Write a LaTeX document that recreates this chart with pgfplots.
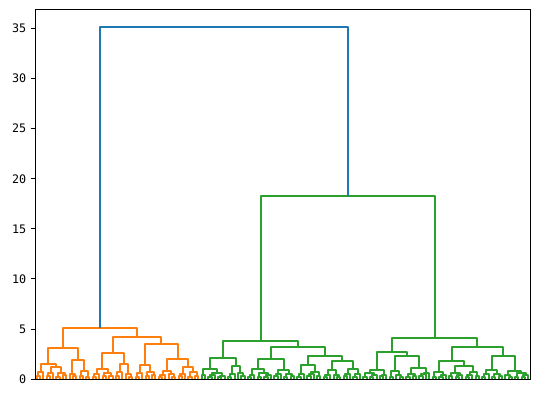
\documentclass[border=0pt]{standalone}
\usepackage{pgfplots}
\pgfplotsset{compat=1.18}
\usepackage{fontspec}
\setmainfont{DejaVu Sans Mono}
\definecolor{mplblue}{HTML}{1F77B4}
\definecolor{mplorange}{HTML}{FF7F0E}
\definecolor{mplgreen}{HTML}{2CA02C}
\begin{document}
\begin{tikzpicture}
\path (-26.25pt,-13.5pt) rectangle (378.75pt,284.25pt);
\begin{axis}[
  scale only axis, width=371.25pt, height=277.5pt,
  xmin=-0.5, xmax=149.5, ymin=0, ymax=36.96,
  xtick=\empty, ytick={0,5,10,15,20,25,30,35},
  tick align=outside, ytick pos=left, major tick length=3pt,
  axis line style={line width=0.6pt}, every tick/.style={black, line width=0.6pt},
  yticklabel style={font=\fontsize{8.8}{10}\selectfont},
  /pgf/number format/assume math mode=true,
  unbounded coords=jump,
  every axis plot/.append style={line width=1.5pt, line join=round},
]
% orange cluster
\addplot[mplorange] coordinates {
(0,0)(0,.25)(1,.25)(1,0)(nan,nan)
(0.5,.25)(0.5,.7)(2,.7)(2,0)(nan,nan)
(3,0)(3,.3)(4,.3)(4,0)(nan,nan)
(3.5,.3)(3.5,.55)(5,.55)(5,0)(nan,nan)
(6,0)(6,.2)(7,.2)(7,0)(nan,nan)
(8,0)(8,.35)(9,.35)(9,0)(nan,nan)
(6.5,.2)(6.5,.6)(8.5,.6)(8.5,.35)(nan,nan)
(4.25,.55)(4.25,1.15)(7.5,1.15)(7.5,.6)(nan,nan)
(1.25,.7)(1.25,1.45)(5.875,1.45)(5.875,1.15)(nan,nan)
(11,0)(11,.25)(12,.25)(12,0)(nan,nan)
(10,0)(10,.5)(11.5,.5)(11.5,.25)(nan,nan)
(13,0)(13,.3)(14,.3)(14,0)(nan,nan)
(15,0)(15,.15)(16,.15)(16,0)(nan,nan)
(13.5,.3)(13.5,.75)(15.5,.75)(15.5,.15)(nan,nan)
(10.75,.5)(10.75,1.85)(14.5,1.85)(14.5,.75)(nan,nan)
(3.5625,1.45)(3.5625,3.1)(12.625,3.1)(12.625,1.85)(nan,nan)
(17,0)(17,.2)(18,.2)(18,0)(nan,nan)
(17.5,.2)(17.5,.45)(19,.45)(19,0)(nan,nan)
(20,0)(20,.25)(21,.25)(21,0)(nan,nan)
(22,0)(22,.3)(23,.3)(23,0)(nan,nan)
(20.5,.25)(20.5,.6)(22.5,.6)(22.5,.3)(nan,nan)
(18.25,.45)(18.25,.95)(21.5,.95)(21.5,.6)(nan,nan)
(24,0)(24,.3)(25,.3)(25,0)(nan,nan)
(24.5,.3)(24.5,.65)(26,.65)(26,0)(nan,nan)
(28,0)(28,.2)(29,.2)(29,0)(nan,nan)
(27,0)(27,.5)(28.5,.5)(28.5,.2)(nan,nan)
(25.25,.65)(25.25,1.5)(27.75,1.5)(27.75,.5)(nan,nan)
(19.875,.95)(19.875,2.6)(26.5,2.6)(26.5,1.5)(nan,nan)
(30,0)(30,.15)(31,.15)(31,0)(nan,nan)
(30.5,.15)(30.5,.55)(32,.55)(32,0)(nan,nan)
(33,0)(33,.25)(34,.25)(34,0)(nan,nan)
(35,0)(35,.35)(36,.35)(36,0)(nan,nan)
(33.5,.25)(33.5,.7)(35.5,.7)(35.5,.35)(nan,nan)
(31.25,.55)(31.25,1.4)(34.5,1.4)(34.5,.7)(nan,nan)
(37,0)(37,.2)(38,.2)(38,0)(nan,nan)
(37.5,.2)(37.5,.4)(39,.4)(39,0)(nan,nan)
(41,0)(41,.15)(42,.15)(42,0)(nan,nan)
(40,0)(40,.45)(41.5,.45)(41.5,.15)(nan,nan)
(38.25,.4)(38.25,.75)(40.75,.75)(40.75,.45)(nan,nan)
(43,0)(43,.3)(44,.3)(44,0)(nan,nan)
(43.5,.3)(43.5,.5)(45,.5)(45,0)(nan,nan)
(46,0)(46,.2)(47,.2)(47,0)(nan,nan)
(48,0)(48,.25)(49,.25)(49,0)(nan,nan)
(46.5,.2)(46.5,.65)(48.5,.65)(48.5,.25)(nan,nan)
(44.25,.5)(44.25,1.15)(47.5,1.15)(47.5,.65)(nan,nan)
(39.5,.75)(39.5,2.0)(45.875,2.0)(45.875,1.15)(nan,nan)
(32.875,1.4)(32.875,3.5)(42.6875,3.5)(42.6875,2.0)(nan,nan)
(23.1875,2.6)(23.1875,4.2)(37.78125,4.2)(37.78125,3.5)(nan,nan)
(8.09375,3.1)(8.09375,5.05)(30.484375,5.05)(30.484375,4.2)
};
% green cluster
\addplot[mplgreen] coordinates {
(50,0)(50,.35)(51,.35)(51,0)(nan,nan)
(52,0)(52,.15)(53,.15)(53,0)(nan,nan)
(52.5,.15)(52.5,.4)(54,.4)(54,0)(nan,nan)
(55,0)(55,.2)(56,.2)(56,0)(nan,nan)
(55.5,.2)(55.5,.3)(57,.3)(57,0)(nan,nan)
(53.25,.4)(53.25,.6)(56.25,.6)(56.25,.3)(nan,nan)
(50.5,.35)(50.5,.95)(54.75,.95)(54.75,.6)(nan,nan)
(58,0)(58,.2)(59,.2)(59,0)(nan,nan)
(58.5,.2)(58.5,.45)(60,.45)(60,0)(nan,nan)
(62,0)(62,.25)(63,.25)(63,0)(nan,nan)
(61,0)(61,.55)(62.5,.55)(62.5,.25)(nan,nan)
(59.25,.45)(59.25,1.25)(61.75,1.25)(61.75,.55)(nan,nan)
(52.625,.95)(52.625,2.07)(60.5,2.07)(60.5,1.25)(nan,nan)
(64,0)(64,.2)(65,.2)(65,0)(nan,nan)
(64.5,.2)(64.5,.4)(66,.4)(66,0)(nan,nan)
(67,0)(67,.15)(68,.15)(68,0)(nan,nan)
(69,0)(69,.2)(70,.2)(70,0)(nan,nan)
(69.5,.2)(69.5,.35)(71,.35)(71,0)(nan,nan)
(67.5,.15)(67.5,.55)(70.25,.55)(70.25,.35)(nan,nan)
(65.25,.4)(65.25,.95)(68.875,.95)(68.875,.55)(nan,nan)
(72,0)(72,.25)(73,.25)(73,0)(nan,nan)
(72.5,.25)(72.5,.45)(74,.45)(74,0)(nan,nan)
(75,0)(75,.15)(76,.15)(76,0)(nan,nan)
(77,0)(77,.3)(78,.3)(78,0)(nan,nan)
(75.5,.15)(75.5,.5)(77.5,.5)(77.5,.3)(nan,nan)
(73.25,.45)(73.25,.9)(76.5,.9)(76.5,.5)(nan,nan)
(67.0625,.95)(67.0625,2.0)(74.875,2.0)(74.875,.9)(nan,nan)
(79,0)(79,.2)(80,.2)(80,0)(nan,nan)
(79.5,.2)(79.5,.5)(81,.5)(81,0)(nan,nan)
(82,0)(82,.25)(83,.25)(83,0)(nan,nan)
(82.5,.25)(82.5,.45)(84,.45)(84,0)(nan,nan)
(85,0)(85,.3)(86,.3)(86,0)(nan,nan)
(83.25,.45)(83.25,.7)(85.5,.7)(85.5,.3)(nan,nan)
(80.25,.5)(80.25,1.4)(84.375,1.4)(84.375,.7)(nan,nan)
(87,0)(87,.15)(88,.15)(88,0)(nan,nan)
(87.5,.15)(87.5,.35)(89,.35)(89,0)(nan,nan)
(91,0)(91,.2)(92,.2)(92,0)(nan,nan)
(90,0)(90,.4)(91.5,.4)(91.5,.2)(nan,nan)
(88.25,.35)(88.25,.85)(90.75,.85)(90.75,.4)(nan,nan)
(93,0)(93,.25)(94,.25)(94,0)(nan,nan)
(93.5,.25)(93.5,.5)(95,.5)(95,0)(nan,nan)
(96,0)(96,.2)(97,.2)(97,0)(nan,nan)
(96.5,.2)(96.5,.45)(98,.45)(98,0)(nan,nan)
(94.25,.5)(94.25,.95)(97.25,.95)(97.25,.45)(nan,nan)
(89.5,.85)(89.5,1.75)(95.75,1.75)(95.75,.95)(nan,nan)
(82.3125,1.4)(82.3125,2.3)(92.625,2.3)(92.625,1.75)(nan,nan)
(70.96875,2.0)(70.96875,3.2)(87.46875,3.2)(87.46875,2.3)(nan,nan)
(56.5625,2.07)(56.5625,3.8)(79.21875,3.8)(79.21875,3.2)(nan,nan)
(99,0)(99,.2)(100,.2)(100,0)(nan,nan)
(101,0)(101,.15)(102,.15)(102,0)(nan,nan)
(101.5,.15)(101.5,.35)(103,.35)(103,0)(nan,nan)
(99.5,.2)(99.5,.55)(102.25,.55)(102.25,.35)(nan,nan)
(104,0)(104,.25)(105,.25)(105,0)(nan,nan)
(104.5,.25)(104.5,.4)(106,.4)(106,0)(nan,nan)
(100.875,.55)(100.875,.9)(105.25,.9)(105.25,.4)(nan,nan)
(107,0)(107,.2)(108,.2)(108,0)(nan,nan)
(110,0)(110,.15)(111,.15)(111,0)(nan,nan)
(109,0)(109,.35)(110.5,.35)(110.5,.15)(nan,nan)
(107.5,.2)(107.5,.75)(109.75,.75)(109.75,.35)(nan,nan)
(112,0)(112,.2)(113,.2)(113,0)(nan,nan)
(114,0)(114,.25)(115,.25)(115,0)(nan,nan)
(112.5,.2)(112.5,.5)(114.5,.5)(114.5,.25)(nan,nan)
(116,0)(116,.3)(117,.3)(117,0)(nan,nan)
(116.5,.3)(116.5,.45)(118,.45)(118,0)(nan,nan)
(117.25,.45)(117.25,.6)(119,.6)(119,0)(nan,nan)
(113.5,.5)(113.5,1.05)(118.125,1.05)(118.125,.6)(nan,nan)
(108.625,.75)(108.625,2.25)(115.8125,2.25)(115.8125,1.05)(nan,nan)
(103.0625,.9)(103.0625,2.65)(112.21875,2.65)(112.21875,2.25)(nan,nan)
(120,0)(120,.15)(121,.15)(121,0)(nan,nan)
(122,0)(122,.2)(123,.2)(123,0)(nan,nan)
(122.5,.2)(122.5,.4)(124,.4)(124,0)(nan,nan)
(120.5,.15)(120.5,.7)(123.25,.7)(123.25,.4)(nan,nan)
(125,0)(125,.25)(126,.25)(126,0)(nan,nan)
(127,0)(127,.2)(128,.2)(128,0)(nan,nan)
(127.5,.2)(127.5,.35)(129,.35)(129,0)(nan,nan)
(125.5,.25)(125.5,.6)(128.25,.6)(128.25,.35)(nan,nan)
(130,0)(130,.15)(131,.15)(131,0)(nan,nan)
(130.5,.15)(130.5,.4)(132,.4)(132,0)(nan,nan)
(133,0)(133,.3)(134,.3)(134,0)(nan,nan)
(131.25,.4)(131.25,.65)(133.5,.65)(133.5,.3)(nan,nan)
(126.875,.6)(126.875,1.3)(132.375,1.3)(132.375,.65)(nan,nan)
(121.875,.7)(121.875,1.75)(129.625,1.75)(129.625,1.3)(nan,nan)
(135,0)(135,.2)(136,.2)(136,0)(nan,nan)
(135.5,.2)(135.5,.45)(137,.45)(137,0)(nan,nan)
(138,0)(138,.15)(139,.15)(139,0)(nan,nan)
(140,0)(140,.25)(141,.25)(141,0)(nan,nan)
(138.5,.15)(138.5,.5)(140.5,.5)(140.5,.25)(nan,nan)
(136.25,.45)(136.25,.85)(139.5,.85)(139.5,.5)(nan,nan)
(143,0)(143,.2)(144,.2)(144,0)(nan,nan)
(142,0)(142,.4)(143.5,.4)(143.5,.2)(nan,nan)
(145,0)(145,.15)(146,.15)(146,0)(nan,nan)
(147,0)(147,.2)(148,.2)(148,0)(nan,nan)
(147.5,.2)(147.5,.35)(149,.35)(149,0)(nan,nan)
(145.5,.15)(145.5,.55)(148.25,.55)(148.25,.35)(nan,nan)
(142.75,.4)(142.75,.8)(146.875,.8)(146.875,.55)(nan,nan)
(137.875,.85)(137.875,2.25)(144.8125,2.25)(144.8125,.8)(nan,nan)
(125.75,1.75)(125.75,3.15)(141.34375,3.15)(141.34375,2.25)(nan,nan)
(107.640625,2.65)(107.640625,4.1)(133.546875,4.1)(133.546875,3.15)(nan,nan)
(67.890625,3.8)(67.890625,18.3)(120.59375,18.3)(120.59375,4.1)
};
% top link
\addplot[mplblue] coordinates {
(19.2890625,5.05)(19.2890625,35.2)(94.2421875,35.2)(94.2421875,18.3)
};
\end{axis}
\end{tikzpicture}
\end{document}
